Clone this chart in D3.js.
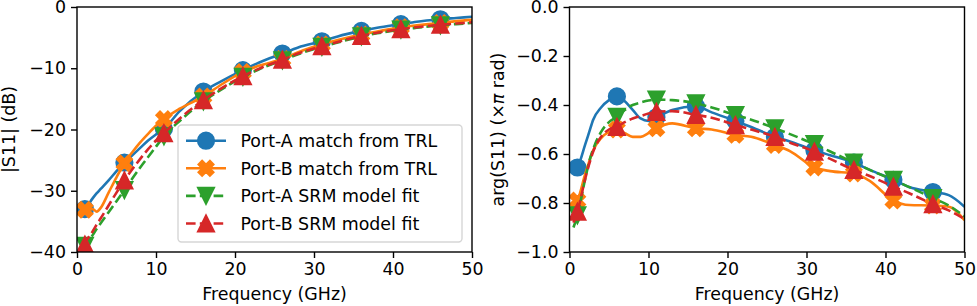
<html>
  <head>
    <meta charset="utf-8">
    <title>S11 match</title>
    <script src="https://d3js.org/d3.v7.min.js"></script>
    <style>
      body { margin: 0; background: #fff; }
      text { font-family: "DejaVu Sans", sans-serif; fill: #000; }
    </style>
  </head>
  <body>

    <svg id="grafico" width="977" height="306"></svg>

    <script>
    // frequencies (GHz) shared by all series
    const freq = [0.5,1,2,2.5,3,4,5,6,7,8,9,10,11,13,16,18,21,23,26,28,31,33,36,38,41,43,46,48,50];
    // marker positions
    const markerFreq = [1,6,11,16,21,26,31,36,41,46];

    // |S11| (dB)
    const magA_trl = [-33.4,-33.0,-31.2,-30.4,-29.7,-28.3,-26.8,-25.4,-24.2,-23.0,-21.8,-20.8,-19.9,-17.0,-13.8,-12.3,-10.3,-9.1,-7.6,-6.6,-5.6,-4.8,-3.9,-3.4,-2.8,-2.4,-2.0,-1.8,-1.6];
    const magB_trl = [-33.3,-33.1,-33.0,-33.4,-32.8,-30.3,-27.8,-25.5,-23.7,-22.1,-20.7,-19.4,-18.3,-16.6,-14.6,-12.9,-10.6,-9.6,-8.5,-7.4,-6.1,-5.4,-4.5,-4.0,-3.3,-3.0,-2.6,-2.3,-2.1];
    const magA_fit = [-41.5,-39.0,-37.2,-36.2,-35.3,-33.5,-31.7,-29.9,-28.0,-26.2,-24.5,-22.8,-21.1,-18.6,-15.4,-13.7,-11.4,-10.2,-8.7,-7.7,-6.5,-5.8,-4.8,-4.3,-3.7,-3.4,-3.0,-2.8,-2.6];
    const magB_fit = [-41.0,-38.8,-36.6,-35.5,-34.5,-32.4,-30.3,-28.3,-26.5,-24.8,-23.2,-21.8,-20.6,-18.2,-15.2,-13.5,-11.3,-10.1,-8.6,-7.6,-6.4,-5.7,-4.7,-4.2,-3.6,-3.3,-2.9,-2.7,-2.5];

    // arg(S11) (x pi rad)
    const argA_trl = [-0.67,-0.655,-0.56,-0.51,-0.46,-0.41,-0.38,-0.365,-0.385,-0.42,-0.455,-0.465,-0.45,-0.42,-0.405,-0.43,-0.465,-0.49,-0.53,-0.55,-0.585,-0.605,-0.635,-0.665,-0.705,-0.735,-0.755,-0.768,-0.815];
    const argB_trl = [-0.81,-0.79,-0.68,-0.63,-0.585,-0.535,-0.51,-0.50,-0.515,-0.53,-0.53,-0.515,-0.495,-0.475,-0.495,-0.50,-0.522,-0.53,-0.563,-0.59,-0.655,-0.67,-0.68,-0.71,-0.79,-0.808,-0.81,-0.815,-0.87];
    const argA_fit = [-0.90,-0.85,-0.70,-0.63,-0.58,-0.51,-0.47,-0.448,-0.42,-0.40,-0.39,-0.382,-0.378,-0.38,-0.393,-0.41,-0.441,-0.46,-0.495,-0.52,-0.56,-0.59,-0.635,-0.665,-0.706,-0.735,-0.78,-0.81,-0.855];
    const argB_fit = [-0.88,-0.835,-0.70,-0.64,-0.59,-0.53,-0.50,-0.489,-0.47,-0.455,-0.445,-0.435,-0.428,-0.425,-0.44,-0.452,-0.482,-0.50,-0.53,-0.555,-0.59,-0.62,-0.665,-0.69,-0.733,-0.76,-0.805,-0.83,-0.865];

    const labels = ["Port-A match from TRL","Port-B match from TRL","Port-A SRM model fit","Port-B SRM model fit"];
    const colors = ["#1f77b4","#ff7f0e","#2ca02c","#d62728"];
    const markers = ["circle","x","tridown","triup"];
    const dashed = [false,false,true,true];

    const xTicks = [0,10,20,30,40,50];
    const magTicks = [0,-10,-20,-30,-40];
    const argTicks = [0,-0.2,-0.4,-0.6,-0.8,-1.0];

    const svg = d3.select("#grafico");
    const FS = 17.4;
    const MS = 16.5;   // marker size

    // marker shape paths, centred at 0,0
    function markerPath(kind){
      let h = MS/2;
      if(kind=="circle"){
        return d3.path().arc ? (function(){ let p=d3.path(); p.arc(0,0,h,0,2*Math.PI); p.closePath(); return p.toString(); })() : "";
      }
      if(kind=="triup") return `M0,${-h}L${-h},${h}L${h},${h}Z`;
      if(kind=="tridown") return `M0,${h}L${-h},${-h}L${h},${-h}Z`;
      // filled X = plus rotated 45 deg
      let pts = [[-1,-3],[-1,-1],[-3,-1],[-3,1],[-1,1],[-1,3],[1,3],[1,1],[3,1],[3,-1],[1,-1],[1,-3]];
      let c = Math.cos(Math.PI/4), s = Math.sin(Math.PI/4);
      return "M" + pts.map(p=>{
        let x = p[0]/6*MS, y = p[1]/6*MS;
        return [(x*c - y*s).toFixed(2),(x*s + y*c).toFixed(2)].join(",");
      }).join("L") + "Z";
    }

    function drawPanel(id, box, yDomain, yTicks, yFmt, series, ylabel){
      let x = d3.scaleLinear().domain([0,50]).range([box.left, box.right]);
      let y = d3.scaleLinear().domain(yDomain).range([box.bottom, box.top]);
      let g = svg.append("g").attr("id",id);

      g.append("clipPath").attr("id","clip-"+id)
        .append("rect")
        .attr("x",box.left).attr("y",box.top)
        .attr("width",box.right-box.left).attr("height",box.bottom-box.top);

      let plot = g.append("g").attr("clip-path","url(#clip-"+id+")");
      let line = d3.line().x(d=>x(d[0])).y(d=>y(d[1])).curve(d3.curveMonotoneX);

      series.forEach((vals,i)=>{
        let pts = freq.map((f,k)=>[f,vals[k]]);
        plot.append("path")
          .attr("d", line(pts))
          .attr("fill","none")
          .attr("stroke",colors[i])
          .attr("stroke-width",2.6)
          .attr("stroke-dasharray", dashed[i] ? "9.6,4.2" : null)
          .attr("stroke-linejoin","round");
        let mk = pts.filter(p=>markerFreq.includes(p[0]));
        plot.selectAll(null)
          .data(mk)
          .enter()
          .append("path")
          .attr("d", markerPath(markers[i]))
          .attr("transform", d=>`translate(${x(d[0])},${y(d[1])})`)
          .attr("fill",colors[i])
          .attr("stroke",colors[i])
          .attr("stroke-width",1.7);
      });

      // axes
      let xAxis = d3.axisBottom(x).tickValues(xTicks).tickSize(6).tickPadding(5).tickFormat(d3.format("d"));
      let yAxis = d3.axisLeft(y).tickValues(yTicks).tickSize(6).tickPadding(5).tickFormat(yFmt);
      let gx = g.append("g").attr("transform",`translate(0,${box.bottom})`).call(xAxis);
      let gy = g.append("g").attr("transform",`translate(${box.left},0)`).call(yAxis);
      [gx,gy].forEach(a=>{
        a.select(".domain").remove();
        a.selectAll("line").attr("stroke","#000").attr("stroke-width",1.4);
        a.selectAll("text").attr("font-size",FS).attr("font-family","DejaVu Sans").attr("fill","#000");
      });

      // spines
      g.append("rect")
        .attr("x",box.left).attr("y",box.top)
        .attr("width",box.right-box.left).attr("height",box.bottom-box.top)
        .attr("fill","none").attr("stroke","#000").attr("stroke-width",1.4);

      g.append("text")
        .attr("x",(box.left+box.right)/2).attr("y",300)
        .attr("text-anchor","middle").attr("font-size",FS)
        .text("Frequency (GHz)");

      let yl = g.append("text")
        .attr("transform",`translate(${box.ylabelX},${(box.top+box.bottom)/2}) rotate(-90)`)
        .attr("text-anchor","middle").attr("font-size",FS);
      ylabel(yl);
      return {x:x, y:y, g:g};
    }

    let left = drawPanel("mag", {left:77, right:472, top:7, bottom:252, ylabelX:15},
      [-40,0], magTicks, d3.format("d"),
      [magA_trl, magB_trl, magA_fit, magB_fit],
      t=>t.text("|S11| (dB)"));

    drawPanel("arg", {left:569.5, right:964.5, top:7, bottom:252, ylabelX:504},
      [-1,0], argTicks, d3.format(".1f"),
      [argA_trl, argB_trl, argA_fit, argB_fit],
      t=>{
        t.append("tspan").text("arg(S11) (×");
        t.append("tspan").attr("font-style","italic").text("π");
        t.append("tspan").text(" rad)");
      });

    // legend
    let lg = svg.append("g").attr("id","legend");
    lg.append("rect")
      .attr("x",178).attr("y",125).attr("width",284).attr("height",117)
      .attr("rx",3.5)
      .attr("fill","#fff").attr("fill-opacity",0.8)
      .attr("stroke","#d6d6d6").attr("stroke-width",1.4);
    labels.forEach((lab,i)=>{
      let cy = 140.7 + i*27.6;
      lg.append("line")
        .attr("x1",186).attr("x2",226).attr("y1",cy).attr("y2",cy)
        .attr("stroke",colors[i]).attr("stroke-width",2.6)
        .attr("stroke-dasharray", dashed[i] ? "9.6,4.2" : null);
      lg.append("path")
        .attr("d",markerPath(markers[i]))
        .attr("transform",`translate(206,${cy})`)
        .attr("fill",colors[i]).attr("stroke",colors[i]).attr("stroke-width",1.7);
      lg.append("text")
        .attr("x",240.5).attr("y",cy).attr("dy","0.36em")
        .attr("font-size",FS)
        .text(lab);
    });
    </script>

  </body>
</html>
